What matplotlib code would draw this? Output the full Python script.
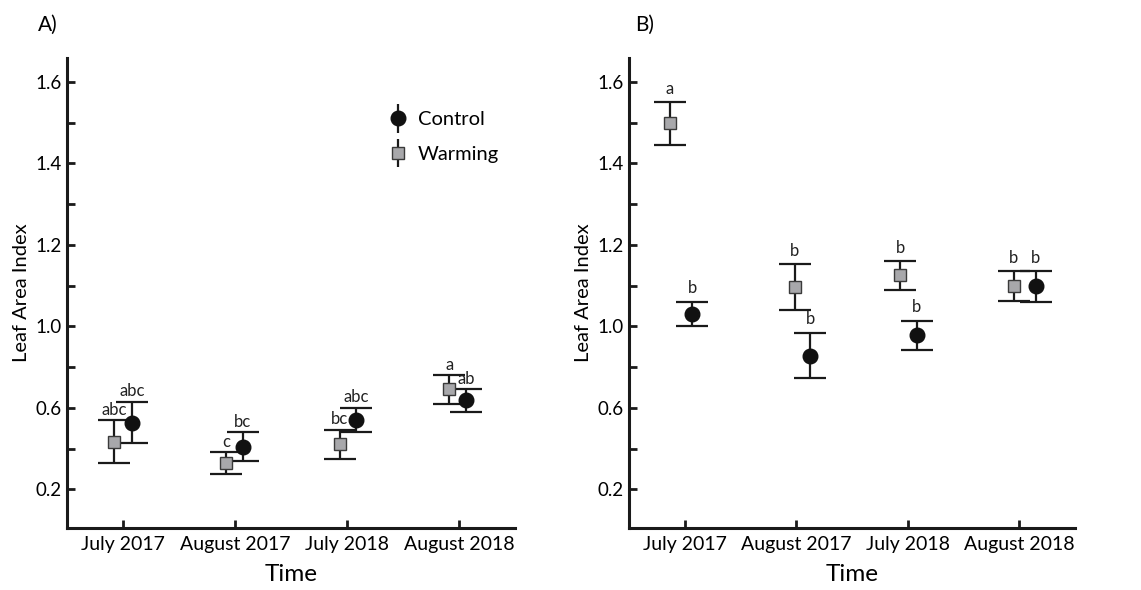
import numpy as np
import matplotlib
matplotlib.use("Agg")
import matplotlib.pyplot as plt
from matplotlib.ticker import FixedLocator, FormatStrFormatter
from matplotlib.container import ErrorbarContainer
from matplotlib.legend_handler import HandlerErrorbar

plt.rcParams['font.family'] = ['Lato', 'DejaVu Sans']

# ---------------- data ----------------
times = ["July 2017", "August 2017", "July 2018", "August 2018"]

# Panel A
a_warm = [0.434, 0.328, 0.422, 0.692]
a_warm_hi = [0.540, 0.382, 0.493, 0.761]
a_warm_lo = [0.328, 0.274, 0.350, 0.619]
a_ctrl = [0.527, 0.409, 0.540, 0.638]
a_ctrl_hi = [0.630, 0.480, 0.601, 0.691]
a_ctrl_lo = [0.426, 0.339, 0.480, 0.580]
a_warm_letters = ["abc", "c", "bc", "a"]
a_ctrl_letters = ["abc", "bc", "abc", "ab"]

# Panel B
b_warm = [1.500, 1.096, 1.126, 1.099]
b_warm_hi = [1.551, 1.152, 1.160, 1.135]
b_warm_lo = [1.446, 1.040, 1.090, 1.063]
b_ctrl = [1.031, 0.853, 0.958, 1.099]
b_ctrl_hi = [1.061, 0.969, 1.014, 1.135]
b_ctrl_lo = [1.001, 0.745, 0.885, 1.061]
b_warm_letters = ["a", "b", "b", "b"]
b_ctrl_letters = ["b", "b", "b", "b"]

major_ticks = [0.2, 0.6, 1.0, 1.2, 1.4, 1.6]
minor_ticks = [0.4, 0.8, 1.1, 1.3, 1.5]

# ---------------- style ----------------
GRAY = '#a8a8ab'
EDGE = '#3a3a3a'
LW = 1.6
CAP = 11.5

# dodge offsets (layout)
a_dx_w = [-0.078, -0.080, -0.066, -0.086]
a_dx_c = [0.080, 0.068, 0.080, 0.062]
b_dx_w = [-0.134, -0.013, -0.069, -0.051]
b_dx_c = [0.069, 0.125, 0.080, 0.148]


def fwd(v):
    v = np.asarray(v, dtype=float)
    return np.where(v <= 1.0, (v - 0.2) / 0.4, 2.0 + (v - 1.0) / 0.2)


def inv(p):
    p = np.asarray(p, dtype=float)
    return np.where(p <= 2.0, 0.2 + 0.4 * p, 1.0 + 0.2 * (p - 2.0))


fig = plt.figure(figsize=(11.41, 5.90), dpi=100)
axA = fig.add_axes([67 / 1141, 62 / 590, 448 / 1141, 470 / 590])
axB = fig.add_axes([629 / 1141, 62 / 590, 446 / 1141, 470 / 590])


def draw(ax, warm, whi, wlo, ctrl, chi, clo, wl, cl, dxw, dxc, lab_off):
    x = np.arange(len(times))
    xw = x + np.array(dxw)
    xc = x + np.array(dxc)
    w = np.array(warm); c = np.array(ctrl)
    ew = [w - np.array(wlo), np.array(whi) - w]
    ec = [c - np.array(clo), np.array(chi) - c]
    ax.errorbar(xw, w, yerr=ew, fmt='none', ecolor='#1a1a1a', elinewidth=LW,
                capsize=CAP, capthick=LW, zorder=2)
    ax.errorbar(xc, c, yerr=ec, fmt='none', ecolor='#1a1a1a', elinewidth=LW,
                capsize=CAP, capthick=LW, zorder=2)
    ax.plot(xw, w, 's', ms=8.5, mfc=GRAY, mec=EDGE, mew=1.0, zorder=4)
    ax.plot(xc, c, 'o', ms=10.5, mfc='#111111', mec='#111111', zorder=4)
    for i in range(len(times)):
        ax.annotate(wl[i], (xw[i], whi[i]), xytext=(0, lab_off), textcoords='offset points',
                    ha='center', va='baseline', fontsize=12, color='#222222', zorder=5)
        ax.annotate(cl[i], (xc[i], chi[i]), xytext=(0, lab_off), textcoords='offset points',
                    ha='center', va='baseline', fontsize=12, color='#222222', zorder=5)

    ax.set_yscale('function', functions=(fwd, inv))
    ax.set_ylim(0.01, 1.659)
    ax.set_xlim(-0.5, 3.5)
    ax.yaxis.set_major_locator(FixedLocator(major_ticks))
    ax.yaxis.set_minor_locator(FixedLocator(minor_ticks))
    ax.yaxis.set_major_formatter(FormatStrFormatter('%.1f'))
    ax.set_xticks(x)
    ax.set_xticklabels(times)
    for s in ['top', 'right']:
        ax.spines[s].set_visible(False)
    for s in ['left', 'bottom']:
        ax.spines[s].set_linewidth(2.2)
        ax.spines[s].set_color('#1a1a1a')
    ax.tick_params(axis='y', which='both', direction='in', length=6, width=2.0,
                   labelsize=13.5, pad=4, color='#1a1a1a')
    ax.tick_params(axis='x', which='both', direction='in', length=6, width=2.0,
                   labelsize=14, pad=6, color='#1a1a1a')
    ax.set_ylabel('Leaf Area Index', fontsize=14.5, labelpad=4)
    ax.set_xlabel('Time', fontsize=17.5, labelpad=8)
    ax.set_facecolor('none')


draw(axA, a_warm, a_warm_hi, a_warm_lo, a_ctrl, a_ctrl_hi, a_ctrl_lo,
     a_warm_letters, a_ctrl_letters, a_dx_w, a_dx_c, 4)
draw(axB, b_warm, b_warm_hi, b_warm_lo, b_ctrl, b_ctrl_hi, b_ctrl_lo,
     b_warm_letters, b_ctrl_letters, b_dx_w, b_dx_c, 6)

# legend (dummy errorbars for handles)
hc = axA.errorbar([np.nan], [np.nan], yerr=[0.1], fmt='o', ms=10.5, mfc='#111111', mec='#111111',
                  ecolor='#1a1a1a', elinewidth=LW, capsize=0, label='Control')
hw = axA.errorbar([np.nan], [np.nan], yerr=[0.1], fmt='s', ms=8.5, mfc=GRAY, mec=EDGE, mew=1.0,
                  ecolor='#1a1a1a', elinewidth=LW, capsize=0, label='Warming')
axA.legend(handles=[hc, hw], loc='upper left', bbox_to_anchor=(0.675, 0.925), frameon=False,
           fontsize=14.5, handlelength=1.0, handletextpad=0.5, labelspacing=0.85,
           handler_map={ErrorbarContainer: HandlerErrorbar(xerr_size=0.7)})

fig.text(38 / 1141, 1 - 25 / 590, 'A)', fontsize=15, va='center', ha='left')
fig.text(635 / 1141, 1 - 25 / 590, 'B)', fontsize=15, va='center', ha='left')

fig.savefig('out.png', dpi=100)
